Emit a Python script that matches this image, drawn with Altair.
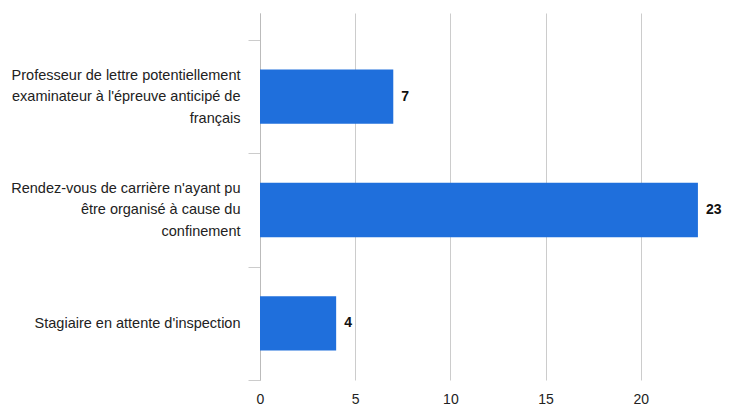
import altair as alt
import pandas as pd

categories = [
    "Professeur de lettre potentiellement\nexaminateur à l'épreuve anticipé de\nfrançais",
    "Rendez-vous de carrière n'ayant pu\nêtre organisé à cause du\nconfinement",
    "Stagiaire en attente d'inspection",
]
values = [7, 23, 4]
x_ticks = [0, 5, 10, 15, 20, 25]

df = pd.DataFrame({"cat": categories, "val": values})

FONT = "Liberation Sans"

y_enc = alt.Y(
    "cat:N",
    sort=categories,
    title=None,
    scale=alt.Scale(paddingInner=0, paddingOuter=0.119, align=1),
    axis=alt.Axis(
        tickBand="extent",
        labelExpr="length(split(datum.label, '\\n')) == 1 ? ['', datum.label, ''] : split(datum.label, '\\n')",
        labelOffset=-21.5,
        labelFont=FONT,
        labelFontSize=14.5,
        labelColor="#222222",
        labelLineHeight=21.5,
        labelPadding=8,
        tickSize=12,
        tickColor="#cccccc",
        domainColor="#bbbbbb",
        grid=False,
        labelLimit=300,
    ),
)

x_enc = alt.X(
    "val:Q",
    title=None,
    scale=alt.Scale(domain=[0, 25], range=[0, 476], nice=False),
    axis=alt.Axis(
        values=x_ticks,
        ticks=False,
        domain=False,
        grid=True,
        gridColor="#cccccc",
        labelFont=FONT,
        labelFontSize=14,
        labelColor="#222222",
        labelPadding=12,
        labelFlush=False,
    ),
)

bars = alt.Chart(df).mark_bar(
    color="#1f6fdc",
    height=alt.RelativeBandSize(band=0.48),
).encode(x=x_enc, y=y_enc)

labels = alt.Chart(df).mark_text(
    align="left",
    baseline="middle",
    dx=8,
    font=FONT,
    fontSize=14,
    fontWeight="bold",
    color="#111111",
).encode(x="val:Q", y=alt.Y("cat:N", sort=categories), text="val:Q")

chart = (
    alt.layer(bars, labels)
    .properties(
        width=463,
        height=367,
        autosize=alt.AutoSizeParams(type="none"),
        padding={"left": 252, "top": 5, "right": 0, "bottom": 30},
        background="white",
    )
    .configure_view(stroke=None)
)

chart.save("out.html", embed_options={"renderer": "svg", "actions": False})
